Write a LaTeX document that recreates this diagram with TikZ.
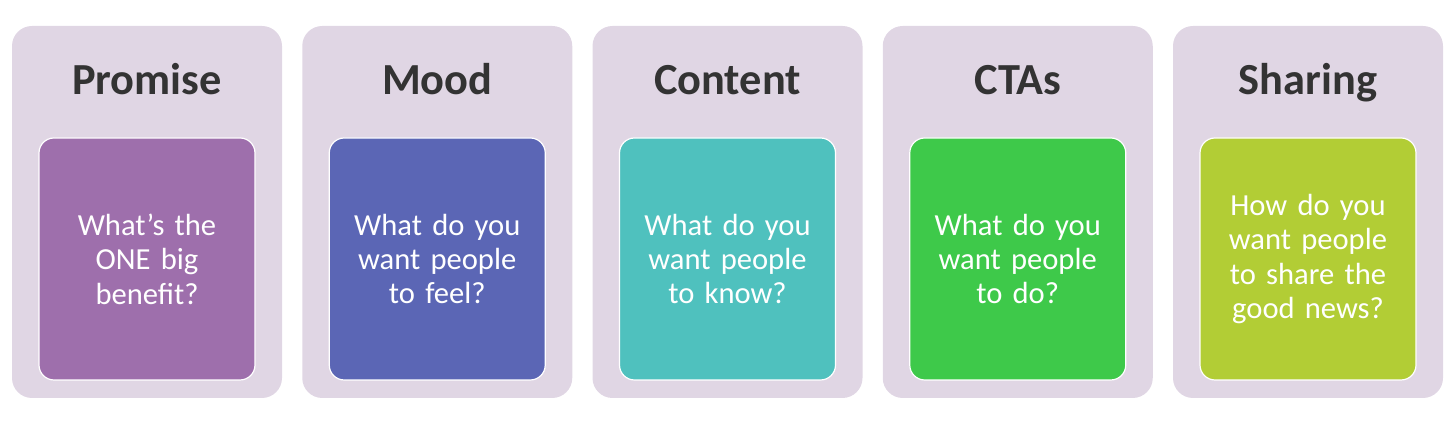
\documentclass[tikz,border=0pt]{standalone}
\usepackage{fontspec}
\setmainfont{Carlito}
\usetikzlibrary{positioning}
\definecolor{panelbg}{HTML}{E0D6E4}
\definecolor{titlegray}{HTML}{333333}
\definecolor{cpurple}{HTML}{9E6FAC}
\definecolor{cblue}{HTML}{5B66B5}
\definecolor{cteal}{HTML}{4FC1BE}
\definecolor{cgreen}{HTML}{3EC94A}
\definecolor{clime}{HTML}{B2CD35}

\begin{document}
\begin{tikzpicture}[x=0.5pt,y=0.5pt,
  panel/.style={fill=panelbg, rounded corners=10pt, minimum width=135pt, minimum height=186pt, inner sep=0pt},
  card/.style={draw=white, line width=0.6pt, rounded corners=7.5pt, minimum width=108pt, minimum height=121pt,
    text=white, font=\fontsize{15.3}{17.2}\selectfont, align=center, text width=104pt, inner sep=0pt},
  head/.style={text=titlegray, font=\bfseries\fontsize{22.2}{26}\selectfont, anchor=base}]
\useasboundingbox (0,0) rectangle (1452,442);
\foreach \i/\cx/\col/\ttl/\txt in {
  1/147/cpurple/Promise/What’s the\\ONE big\\benefit?,
  2/437.25/cblue/Mood/What do you\\want people\\to feel?,
  3/727.5/cteal/Content/What do you\\want people\\to know?,
  4/1017.75/cgreen/CTAs/What do you\\want people\\to do?,
  5/1308/clime/Sharing/How do you\\want people\\to share the\\good news?}{
  \node[panel] (panel\i) at (\cx,230) {};
  \node[head] (head\i) at (\cx,347) {\ttl};
  \node[card, fill=\col] (card\i) at (\cx,183) {\txt};
}
\end{tikzpicture}
\end{document}
